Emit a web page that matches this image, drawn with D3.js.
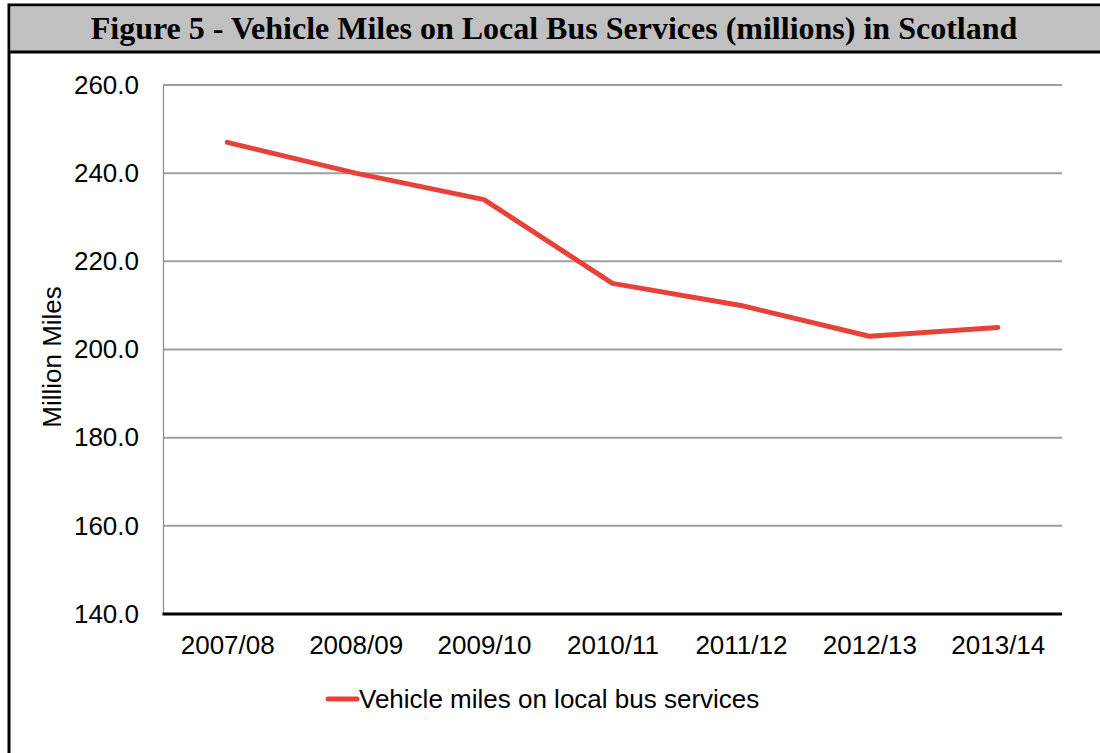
<!DOCTYPE html>
<html>
<head>
<meta charset="utf-8">
<script src="https://cdn.jsdelivr.net/npm/d3@7"></script>
<style>
	body { margin: 0; background: #fff; }
	.axis text { font-family: "Liberation Sans", Arial, sans-serif; font-size: 26px; fill: #000; }
</style>
</head>
<body>
<script>
//chart data
var years = ["2007/08", "2008/09", "2009/10", "2010/11", "2011/12", "2012/13", "2013/14"];
var vehicleMiles = [247, 240, 234, 215, 210, 203, 205];
var yTicks = [140, 160, 180, 200, 220, 240, 260];
var seriesName = "Vehicle miles on local bus services";
var chartTitle = "Figure 5 - Vehicle Miles on Local Bus Services (millions) in Scotland";

window.onload = setChart();

function setChart(){
	var width = 1100,
		height = 753,
		left = 163,
		right = 1062,
		top = 85,
		bottom = 614;

	var svg = d3.select("body")
		.append("svg")
		.attr("width", width)
		.attr("height", height);

	//outer frame and title bar
	svg.append("rect")
		.attr("x", 9).attr("y", 5)
		.attr("width", 1100).attr("height", 800)
		.attr("fill", "#fff")
		.attr("stroke", "#000")
		.attr("stroke-width", 3);

	svg.append("rect")
		.attr("x", 10.5).attr("y", 6.5)
		.attr("width", 1100).attr("height", 44.5)
		.attr("fill", "#c0c0c0");

	svg.append("line")
		.attr("x1", 9).attr("x2", 1100)
		.attr("y1", 52).attr("y2", 52)
		.attr("stroke", "#000")
		.attr("stroke-width", 3);

	svg.append("text")
		.attr("x", 554)
		.attr("y", 38.5)
		.attr("text-anchor", "middle")
		.style("font-family", "'Liberation Serif', 'Times New Roman', serif")
		.style("font-weight", "bold")
		.style("font-size", "32px")
		.text(chartTitle);

	//scales
	var x = d3.scalePoint()
		.domain(years)
		.range([left, right])
		.padding(0.5);

	var y = d3.scaleLinear()
		.domain([140, 260])
		.range([bottom, top]);

	//gridlines
	svg.selectAll(".grid")
		.data(yTicks.slice(1))
		.enter()
		.append("line")
		.attr("class", "grid")
		.attr("x1", left)
		.attr("x2", right)
		.attr("y1", function(d){ return y(d); })
		.attr("y2", function(d){ return y(d); })
		.attr("stroke", "#a0a0a0")
		.attr("stroke-width", 2);

	//y axis
	var yAxis = svg.append("g")
		.attr("class", "axis")
		.attr("transform", "translate(" + left + ",0)")
		.call(d3.axisLeft(y).tickValues(yTicks).tickFormat(d3.format(".1f")).tickSize(0).tickPadding(24));
	yAxis.select(".domain")
		.attr("stroke", "#8c8c8c")
		.attr("stroke-width", 1.2);

	//x axis
	var xAxis = svg.append("g")
		.attr("class", "axis")
		.attr("transform", "translate(0," + bottom + ")")
		.call(d3.axisBottom(x).tickSize(0).tickPadding(22));
	xAxis.select(".domain").remove();

	svg.append("line")
		.attr("x1", left - 0.5)
		.attr("x2", right)
		.attr("y1", bottom)
		.attr("y2", bottom)
		.attr("stroke", "#000")
		.attr("stroke-width", 3);

	//y axis title
	svg.append("text")
		.attr("transform", "translate(61,357) rotate(-90)")
		.attr("text-anchor", "middle")
		.style("font-family", "'Liberation Sans', Arial, sans-serif")
		.style("font-size", "26px")
		.text("Million Miles");

	//series line
	var line = d3.line()
		.x(function(d, i){ return x(years[i]); })
		.y(function(d){ return y(d); });

	svg.append("path")
		.datum(vehicleMiles)
		.attr("d", line)
		.attr("fill", "none")
		.attr("stroke", "#e8413a")
		.attr("stroke-width", 5)
		.attr("stroke-linecap", "round")
		.attr("stroke-linejoin", "round");

	//legend
	svg.append("line")
		.attr("x1", 328).attr("x2", 357)
		.attr("y1", 699).attr("y2", 699)
		.attr("stroke", "#e8413a")
		.attr("stroke-width", 5)
		.attr("stroke-linecap", "round");

	svg.append("text")
		.attr("x", 359)
		.attr("y", 708)
		.style("font-family", "'Liberation Sans', Arial, sans-serif")
		.style("font-size", "26px")
		.text(seriesName);
};
</script>
</body>
</html>
